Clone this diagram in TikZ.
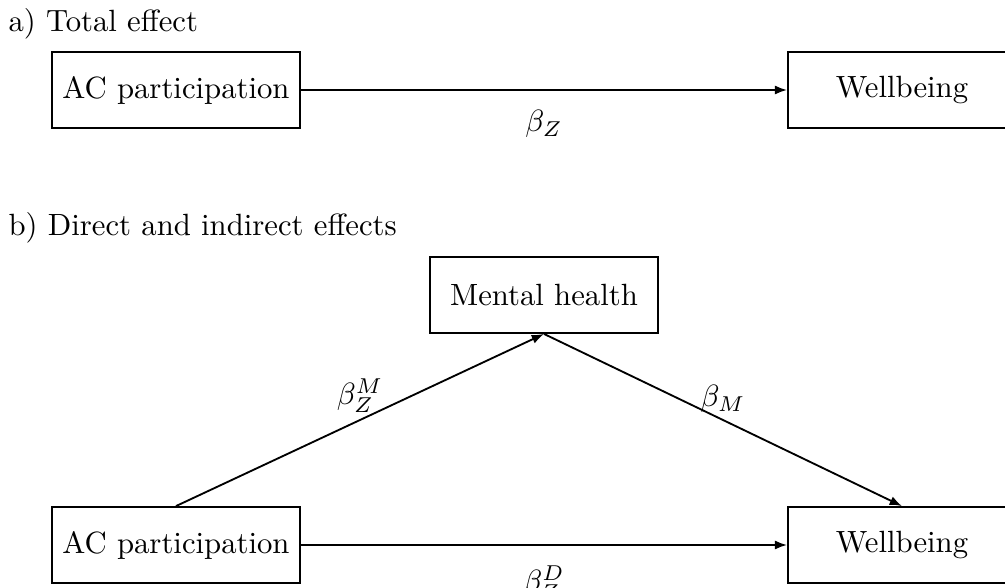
\documentclass[tikz,border=0pt]{standalone}
\usetikzlibrary{arrows.meta}
\begin{document}
\begin{tikzpicture}[x=0.3255pt,y=-0.3255pt,
  box/.style={draw,line width=0.6pt,rectangle,minimum height=76*0.3255pt,inner sep=0pt,font=\normalsize},
  conn/.style={line width=0.6pt,-{Latex[length=4pt,width=3pt]}},
  heading/.style={anchor=base west,inner sep=0pt}]
\useasboundingbox (0,0) rectangle (1005,588);
\clip (0,0) rectangle (1005,588);
% part a
\node[heading] (ha) at (8,31) {a) Total effect};
\node[box,minimum width=248*0.3255pt] (ac1) at (176,90) {AC participation};
\node[box,minimum width=228*0.3255pt] (wb1) at (902,90) {Wellbeing};
\draw[conn] (ac1) -- node[midway,below=3pt] (lz) {$\beta_Z$} (wb1);
% part b
\node[heading] (hb) at (8,235) {b) Direct and indirect effects};
\node[box,minimum width=228*0.3255pt] (mh) at (544,295) {Mental health};
\node[box,minimum width=248*0.3255pt] (ac2) at (176,545) {AC participation};
\node[box,minimum width=228*0.3255pt] (wb2) at (902,545) {Wellbeing};
\draw[conn] (ac2.north) -- node[midway,above,inner sep=2pt] (lzm) {$\beta_Z^M$} (mh.south);
\draw[conn] (mh.south) -- node[midway,above,inner sep=2pt] (lm) {$\beta_M$} (wb2.north);
\draw[conn] (ac2) -- node[midway,below=3pt] (lzd) {$\beta_Z^D$} (wb2);
\end{tikzpicture}
\end{document}
